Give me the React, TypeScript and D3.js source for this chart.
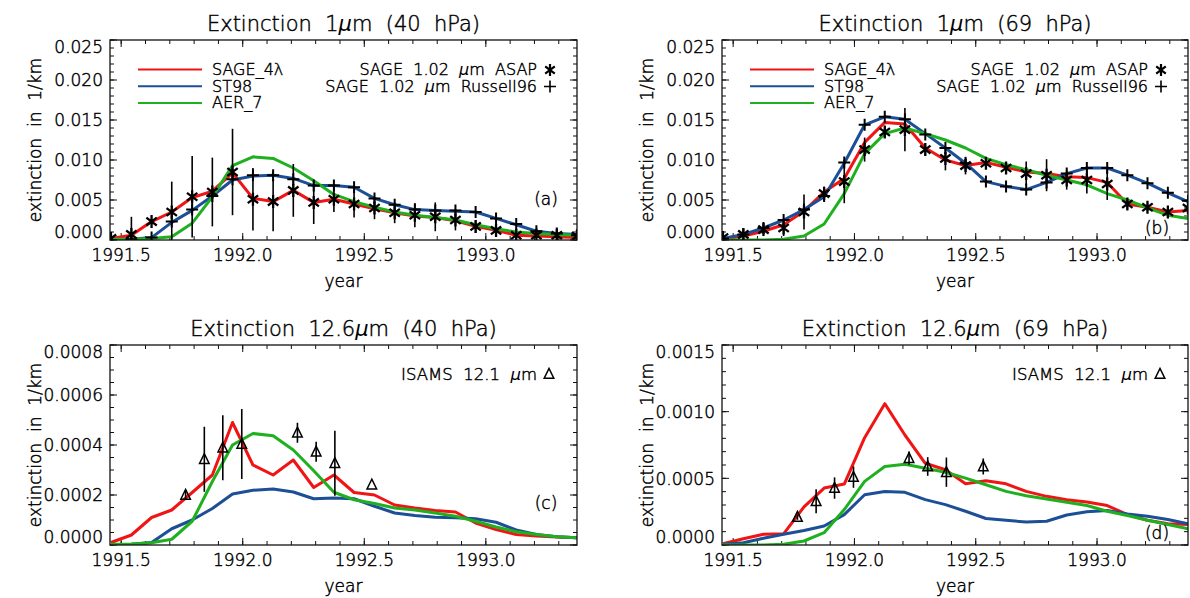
import React from "react";
import * as d3 from "d3";

// ---------- data ----------
const TIMES = [
  1991.458, 1991.542, 1991.625, 1991.708, 1991.792, 1991.875, 1991.958, 1992.042,
  1992.125, 1992.208, 1992.292, 1992.375, 1992.458, 1992.542, 1992.625, 1992.708,
  1992.792, 1992.875, 1992.958, 1993.042, 1993.125, 1993.208, 1993.292, 1993.375,
];
const ISAMS_TIMES = [1991.765, 1991.842, 1991.918, 1991.996, 1992.225, 1992.302, 1992.379, 1992.531];

// (a) 1 µm, 40 hPa
const A_SAGE4 = [0.0002, 0.0006, 0.0023, 0.0035, 0.0053, 0.0061, 0.0084, 0.0052, 0.0048, 0.0062, 0.0047, 0.0051, 0.0045, 0.0039, 0.0034, 0.0030, 0.0028, 0.0024, 0.0017, 0.0012, 0.0006, 0.0005, 0.0004, 0.0003];
const A_ST98 = [0.0000, 0.0001, 0.0003, 0.0022, 0.0037, 0.0055, 0.0075, 0.0080, 0.0081, 0.0077, 0.0068, 0.0068, 0.0066, 0.0052, 0.0044, 0.0038, 0.0037, 0.0036, 0.0035, 0.0027, 0.0019, 0.0011, 0.0008, 0.0007];
const A_AER7 = [0.0001, 0.0001, 0.0002, 0.0004, 0.0021, 0.0054, 0.0093, 0.0104, 0.0102, 0.0090, 0.0074, 0.0057, 0.0048, 0.0041, 0.0035, 0.0031, 0.0028, 0.0025, 0.0019, 0.0014, 0.0010, 0.0008, 0.0007, 0.0006];
const A_ASAP = [0.0002, 0.0007, 0.0023, 0.0035, 0.0054, 0.0060, 0.0085, 0.0051, 0.0048, 0.0062, 0.0047, 0.0051, 0.0045, 0.0040, 0.0034, 0.0031, 0.0029, 0.0025, 0.0017, 0.0012, 0.0006, 0.0006, 0.0006, 0.0005];
const A_ASAP_ERR = [0.0000, 0.0022, 0.0003, 0.0038, 0.0051, 0.0043, 0.0054, 0.0039, 0.0037, 0.0033, 0.0027, 0.0016, 0.0017, 0.0014, 0.0013, 0.0015, 0.0018, 0.0013, 0.0008, 0.0007, 0.0004, 0.0003, 0.0003, 0.0003];
const A_RUSSELL = [0.0000, 0.0001, 0.0003, 0.0023, 0.0038, 0.0055, 0.0076, 0.0081, 0.0081, 0.0076, 0.0068, 0.0068, 0.0066, 0.0052, 0.0044, 0.0038, 0.0037, 0.0037, 0.0035, 0.0027, 0.0020, 0.0011, 0.0008, 0.0006];

// (b) 1 µm, 69 hPa
const B_SAGE4 = [0.0001, 0.0005, 0.0011, 0.0019, 0.0036, 0.0060, 0.0077, 0.0122, 0.0147, 0.0145, 0.0115, 0.0100, 0.0093, 0.0097, 0.0091, 0.0085, 0.0083, 0.0079, 0.0078, 0.0072, 0.0045, 0.0041, 0.0035, 0.0037];
const B_ST98 = [0.0002, 0.0007, 0.0015, 0.0025, 0.0038, 0.0054, 0.0096, 0.0144, 0.0154, 0.0151, 0.0133, 0.0115, 0.0096, 0.0073, 0.0067, 0.0063, 0.0072, 0.0083, 0.0090, 0.0090, 0.0081, 0.0071, 0.0059, 0.0048];
const B_AER7 = [0.0000, 0.0000, 0.0000, 0.0001, 0.0005, 0.0020, 0.0058, 0.0108, 0.0133, 0.0140, 0.0133, 0.0125, 0.0115, 0.0102, 0.0094, 0.0088, 0.0081, 0.0075, 0.0069, 0.0058, 0.0050, 0.0040, 0.0031, 0.0027];
const B_ASAP = [0.0003, 0.0007, 0.0013, 0.0015, 0.0035, 0.0058, 0.0073, 0.0113, 0.0135, 0.0138, 0.0113, 0.0102, 0.0093, 0.0096, 0.0090, 0.0083, 0.0081, 0.0075, 0.0075, 0.0070, 0.0045, 0.0041, 0.0035, 0.0040];
const B_ASAP_ERR = [0.0002, 0.0003, 0.0005, 0.0010, 0.0022, 0.0009, 0.0027, 0.0015, 0.0006, 0.0027, 0.0007, 0.0015, 0.0011, 0.0006, 0.0006, 0.0015, 0.0020, 0.0012, 0.0017, 0.0020, 0.0006, 0.0005, 0.0004, 0.0004];
const B_RUSSELL = [0.0002, 0.0007, 0.0015, 0.0025, 0.0038, 0.0055, 0.0097, 0.0144, 0.0154, 0.0151, 0.0132, 0.0115, 0.0096, 0.0073, 0.0067, 0.0063, 0.0072, 0.0083, 0.0090, 0.0090, 0.0081, 0.0071, 0.0059, 0.0049];

// (c) 12.6 µm, 40 hPa
const C_SAGE4 = [0.00001, 0.00004, 0.00011, 0.00014, 0.00021, 0.00028, 0.00049, 0.00032, 0.00028, 0.00034, 0.00023, 0.00028, 0.00021, 0.00020, 0.00016, 0.000148, 0.000138, 0.000132, 0.000088, 0.000062, 0.000042, 0.000036, 0.000032, 0.000029];
const C_ST98 = [0.0, 0.000003, 0.00001, 0.000065, 0.0001, 0.000146, 0.000204, 0.000219, 0.000224, 0.000212, 0.000185, 0.000188, 0.000185, 0.000155, 0.000128, 0.000118, 0.000111, 0.000109, 0.000105, 0.000091, 0.00006, 0.000042, 0.000033, 0.000029];
const C_AER7 = [0.000003, 0.000004, 0.000009, 0.000023, 0.000095, 0.000254, 0.0004, 0.000446, 0.000437, 0.00038, 0.000297, 0.000211, 0.000181, 0.000166, 0.000148, 0.00014, 0.000128, 0.000115, 0.000095, 0.000072, 0.000053, 0.000042, 0.000033, 0.000029];
const C_ISAMS = [0.0002, 0.000343, 0.000389, 0.000404, 0.000449, 0.000373, 0.000327, 0.000241];
const C_ISAMS_ERR = [0.00002, 0.00013, 0.00013, 0.00014, 0.00004, 0.00004, 0.00013, 0.0];

// (d) 12.6 µm, 69 hPa
const D_SAGE4 = [0.00001, 0.000047, 0.00008, 0.000084, 0.000286, 0.000427, 0.000457, 0.000805, 0.00106, 0.000825, 0.000613, 0.000564, 0.000459, 0.000482, 0.000459, 0.000402, 0.000365, 0.00034, 0.000323, 0.000296, 0.000228, 0.000186, 0.000159, 0.000154];
const D_ST98 = [0.000005, 0.000017, 0.00005, 0.00008, 0.000109, 0.000142, 0.000228, 0.000377, 0.000402, 0.000395, 0.00034, 0.000303, 0.000253, 0.000199, 0.000185, 0.000172, 0.000178, 0.000225, 0.00025, 0.000258, 0.000233, 0.000216, 0.000191, 0.000159];
const D_AER7 = [0.0, 0.0, 0.0, 0.000005, 0.00003, 0.000092, 0.000266, 0.000477, 0.000589, 0.000606, 0.000576, 0.000546, 0.000502, 0.000452, 0.000402, 0.00037, 0.000345, 0.00032, 0.000296, 0.000253, 0.000221, 0.000186, 0.000154, 0.000122];
const D_ISAMS = [0.000209, 0.000328, 0.000427, 0.000509, 0.000651, 0.000589, 0.000546, 0.000589];
const D_ISAMS_ERR = [0.00002, 0.00009, 0.00008, 0.00008, 0.00005, 0.00007, 0.00011, 0.00006];

// axes
const X_DOMAIN: [number, number] = [1991.454, 1993.375];
const X_MAJOR = [1991.5, 1992.0, 1992.5, 1993.0];
const X_LABELS = ["1991.5", "1992.0", "1992.5", "1993.0"];
const Y_TICKS_1UM = [0, 0.005, 0.01, 0.015, 0.02, 0.025];
const Y_LABELS_1UM = ["0.000", "0.005", "0.010", "0.015", "0.020", "0.025"];
const Y_TICKS_C = [0, 0.0002, 0.0004, 0.0006, 0.0008];
const Y_LABELS_C = ["0.0000", "0.0002", "0.0004", "0.0006", "0.0008"];
const Y_TICKS_D = [0, 0.0005, 0.001, 0.0015];
const Y_LABELS_D = ["0.0000", "0.0005", "0.0010", "0.0015"];

const MODEL_NAMES = ["SAGE_4\u03bb", "ST98", "AER_7"];
const COLORS = ["#f01414", "#1c4f96", "#1fb01f"];

const FONT = "'DejaVu Sans', Verdana, sans-serif";

type PanelProps = {
  id: string;
  left: number; right: number; top: number; bottom: number;
  title: string;
  letter: string;
  letterDy: number;
  yMax: number;
  yMinor: number;
  yTicks: number[];
  yLabels: string[];
  models: number[][];
  asap?: number[]; asapErr?: number[]; russell?: number[];
  isams?: number[]; isamsErr?: number[];
};

const asteriskPath = (r: number) => {
  const a = r * 0.8, b = r * 0.6;
  return `M0,${-r}L0,${r}M${-a},${-b}L${a},${b}M${-a},${b}L${a},${-b}`;
};
const plusPath = (r: number) => `M${-r},0L${r},0M0,${-r}L0,${r}`;
const triPath = () => `M-4.8,4.2L4.8,4.2L0,-5.6Z`;

const Mu = () => (
  <tspan fontStyle="italic" stroke="none">{"\u03bc"}</tspan>
);

function Title({ x, y, text }: { x: number; y: number; text: string }) {
  const parts = text.split("\u03bc");
  return (
    <text x={x} y={y} textAnchor="middle" fontSize={21} style={{ whiteSpace: "pre" }}>
      {parts[0]}
      <Mu />
      {parts[1]}
    </text>
  );
}

function Panel(p: PanelProps) {
  const x = d3.scaleLinear().domain(X_DOMAIN).range([p.left, p.right]);
  const y = d3.scaleLinear().domain([0, p.yMax]).range([p.bottom, p.top]);
  const line = d3.line<number>().x((_, i) => x(TIMES[i])).y((v) => y(v));
  const minorX = d3.range(0, 19).map((k) => 1991.5 + k * 0.1).filter((v) => v <= X_DOMAIN[1]);
  const nMinorY = Math.round(p.yMax / p.yMinor);
  const minorY = d3.range(0, nMinorY + 1).map((k) => k * p.yMinor);
  const cx = (p.left + p.right) / 2;
  const cy = (p.top + p.bottom) / 2;
  const MAJ = 7, MIN = 4;
  const tk = { stroke: "#111", strokeWidth: 1 };
  return (
    <g>
      <defs>
        <clipPath id={`clip-${p.id}`}>
          <rect x={p.left} y={p.top} width={p.right - p.left} height={p.bottom - p.top} />
        </clipPath>
      </defs>
      <Title x={cx} y={p.top - 9} text={p.title} />
      {/* x ticks */}
      {minorX.map((v, i) => (
        <g key={`mx${i}`}>
          <line x1={x(v)} x2={x(v)} y1={p.bottom} y2={p.bottom - MIN} {...tk} />
          <line x1={x(v)} x2={x(v)} y1={p.top} y2={p.top + MIN} {...tk} />
        </g>
      ))}
      {X_MAJOR.map((v, i) => (
        <g key={`Mx${i}`}>
          <line x1={x(v)} x2={x(v)} y1={p.bottom} y2={p.bottom - MAJ} {...tk} />
          <line x1={x(v)} x2={x(v)} y1={p.top} y2={p.top + MAJ} {...tk} />
          <text x={x(v)} y={p.bottom + 21} textAnchor="middle" fontSize={17}>{X_LABELS[i]}</text>
        </g>
      ))}
      {/* y ticks */}
      {minorY.map((v, i) => (
        <g key={`my${i}`}>
          <line x1={p.left} x2={p.left + MIN} y1={y(v)} y2={y(v)} {...tk} />
          <line x1={p.right} x2={p.right - MIN} y1={y(v)} y2={y(v)} {...tk} />
        </g>
      ))}
      {p.yTicks.map((v, i) => {
        const last = i === p.yTicks.length - 1;
        const by = i === 0 ? y(v) - 2 : last ? y(v) + 12.5 : y(v) + 6.2;
        return (
          <g key={`My${i}`}>
            <line x1={p.left} x2={p.left + MAJ} y1={y(v)} y2={y(v)} {...tk} />
            <line x1={p.right} x2={p.right - MAJ} y1={y(v)} y2={y(v)} {...tk} />
            <text x={p.left - 7} y={by} textAnchor="end" fontSize={17}>{p.yLabels[i]}</text>
          </g>
        );
      })}
      {/* axis titles */}
      <text x={cx} y={p.bottom + 47} textAnchor="middle" fontSize={17}>year</text>
      <text
        transform={`translate(${p.left - 69},${cy}) rotate(-90)`}
        textAnchor="middle"
        fontSize={17}
        style={{ whiteSpace: "pre" }}
      >
        {"extinction  in  1/km"}
      </text>

      <g clipPath={`url(#clip-${p.id})`} stroke="none">
        {p.models.map((vals, k) => (
          <path key={`m${k}`} d={line(vals) || ""} fill="none" stroke={COLORS[k]} strokeWidth={3} strokeLinejoin="round" />
        ))}
        {p.asap && p.asapErr &&
          p.asap.map((v, i) =>
            p.asapErr![i] > 0 ? (
              <line key={`ae${i}`} x1={x(TIMES[i])} x2={x(TIMES[i])} y1={y(v - p.asapErr![i])} y2={y(v + p.asapErr![i])} stroke="#000" strokeWidth={1.6} />
            ) : null
          )}
        {p.russell &&
          p.russell.map((v, i) => (
            <path key={`r${i}`} d={plusPath(6)} transform={`translate(${x(TIMES[i])},${y(v)})`} stroke="#000" strokeWidth={2} fill="none" />
          ))}
        {p.asap &&
          p.asap.map((v, i) => (
            <path key={`a${i}`} d={asteriskPath(6.5)} transform={`translate(${x(TIMES[i])},${y(v)})`} stroke="#000" strokeWidth={2.3} fill="none" />
          ))}
        {p.isams && p.isamsErr &&
          p.isams.map((v, i) => (
            <g key={`i${i}`}>
              {p.isamsErr![i] > 0 && (
                <line x1={x(ISAMS_TIMES[i])} x2={x(ISAMS_TIMES[i])} y1={y(v - p.isamsErr![i])} y2={y(v + p.isamsErr![i])} stroke="#000" strokeWidth={1.6} />
              )}
              <path d={triPath()} transform={`translate(${x(ISAMS_TIMES[i])},${y(v)})`} stroke="#000" strokeWidth={1.5} fill="none" />
            </g>
          ))}
      </g>

      {/* frame */}
      <rect x={p.left} y={p.top} width={p.right - p.left} height={p.bottom - p.top} fill="none" stroke="#111" strokeWidth={1.3} />

      {/* legends */}
      {p.asap && (
        <g>
          {MODEL_NAMES.map((n, k) => (
            <g key={`lg${k}`}>
              <line x1={p.left + 28} x2={p.left + 92} y1={p.top + 29.5 + k * 16.7} y2={p.top + 29.5 + k * 16.7} stroke={COLORS[k]} strokeWidth={2} />
              <text x={p.left + 102} y={p.top + 35 + k * 16.7} fontSize={16}>{n}</text>
            </g>
          ))}
          <text x={p.right - 40} y={p.top + 35} textAnchor="end" fontSize={16} style={{ whiteSpace: "pre" }}>
            {"SAGE  1.02  "}<Mu />{"m  ASAP"}
          </text>
          <path d={asteriskPath(6)} transform={`translate(${p.right - 27},${p.top + 30})`} stroke="#000" strokeWidth={2.2} fill="none" />
          <text x={p.right - 40} y={p.top + 51.7} textAnchor="end" fontSize={16} style={{ whiteSpace: "pre" }}>
            {"SAGE  1.02  "}<Mu />{"m  Russell96"}
          </text>
          <path d={plusPath(6)} transform={`translate(${p.right - 27},${p.top + 46.5})`} stroke="#000" strokeWidth={1.6} fill="none" />
        </g>
      )}
      {p.isams && (
        <g>
          <text x={p.right - 40} y={p.top + 35} textAnchor="end" fontSize={16.5} style={{ whiteSpace: "pre" }}>
            {"ISAMS  12.1  "}<Mu />{"m"}
          </text>
          <path d={triPath()} transform={`translate(${p.right - 28},${p.top + 29})`} stroke="#000" strokeWidth={1.5} fill="none" />
        </g>
      )}
      <text x={p.right - 31} y={p.top + p.letterDy + 6} textAnchor="middle" fontSize={17}>{p.letter}</text>
    </g>
  );
}

export default function App() {
  return (
    <svg
      width={1190}
      height={598}
      style={{ position: "absolute", left: 0, top: 0, background: "#fff" }}
      fontFamily={FONT}
      fontWeight={300}
      fill="#000"
    >
      <rect width={1190} height={598} fill="#fff" />
      <g stroke="#000" strokeWidth={0.45}>
        <Panel
          id="a" left={110} right={577} top={40} bottom={240}
          title={"Extinction  1\u03bcm  (40  hPa)"} letter="(a)" letterDy={159}
          yMax={0.025} yMinor={0.001} yTicks={Y_TICKS_1UM} yLabels={Y_LABELS_1UM}
          models={[A_SAGE4, A_ST98, A_AER7]}
          asap={A_ASAP} asapErr={A_ASAP_ERR} russell={A_RUSSELL}
        />
        <Panel
          id="b" left={722} right={1188} top={40} bottom={240}
          title={"Extinction  1\u03bcm  (69  hPa)"} letter="(b)" letterDy={188}
          yMax={0.025} yMinor={0.001} yTicks={Y_TICKS_1UM} yLabels={Y_LABELS_1UM}
          models={[B_SAGE4, B_ST98, B_AER7]}
          asap={B_ASAP} asapErr={B_ASAP_ERR} russell={B_RUSSELL}
        />
        <Panel
          id="c" left={110} right={577} top={345} bottom={545}
          title={"Extinction  12.6\u03bcm  (40  hPa)"} letter="(c)" letterDy={158}
          yMax={0.0008} yMinor={0.00005} yTicks={Y_TICKS_C} yLabels={Y_LABELS_C}
          models={[C_SAGE4, C_ST98, C_AER7]}
          isams={C_ISAMS} isamsErr={C_ISAMS_ERR}
        />
        <Panel
          id="d" left={722} right={1188} top={345} bottom={545}
          title={"Extinction  12.6\u03bcm  (69  hPa)"} letter="(d)" letterDy={188}
          yMax={0.0015} yMinor={0.0001} yTicks={Y_TICKS_D} yLabels={Y_LABELS_D}
          models={[D_SAGE4, D_ST98, D_AER7]}
          isams={D_ISAMS} isamsErr={D_ISAMS_ERR}
        />
      </g>
    </svg>
  );
}
